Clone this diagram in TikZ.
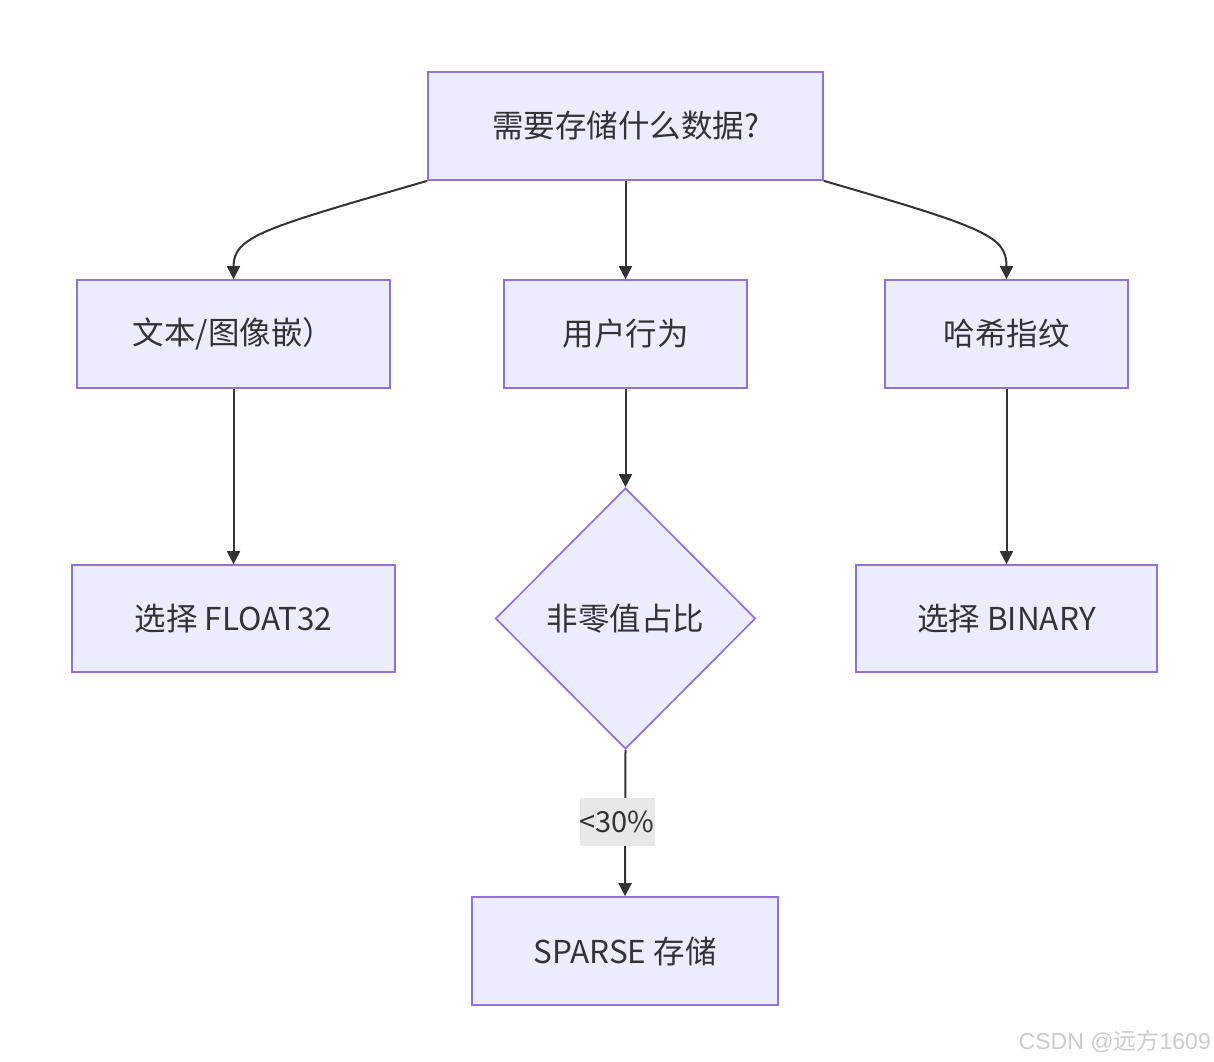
\documentclass[tikz,border=0pt]{standalone}
\usepackage{fontspec}
\setmainfont{Noto Sans CJK SC}
\newfontfamily\cjk{Noto Sans CJK SC}
\newfontfamily\wmsans{Liberation Sans}
\usetikzlibrary{shapes.geometric,arrows.meta}
\definecolor{nodefill}{HTML}{ECECFF}
\definecolor{nodeline}{HTML}{9370DB}
\definecolor{ink}{HTML}{333333}
\definecolor{lblbg}{HTML}{E8E8E8}
\begin{document}
\begin{tikzpicture}[x=1pt,y=-1pt,
  box/.style={draw=nodeline,fill=nodefill,line width=1.7pt,rectangle,inner sep=0pt,
    text=ink,font=\fontsize{31.5}{37}\selectfont},
  dia/.style={draw=nodeline,fill=nodefill,line width=1.7pt,diamond,inner sep=0pt,
    text=ink,font=\fontsize{31.5}{37}\selectfont,minimum width=260pt,minimum height=261pt,aspect=1},
  conn/.style={draw=ink,line width=2pt,-{Triangle[length=13pt,width=13pt]}},
  lbl/.style={fill=lblbg,text=ink,font=\fontsize{29}{34}\selectfont,inner sep=0pt,minimum width=70pt,minimum height=48pt}
]
\useasboundingbox (0,0) rectangle (1214,1061);
\fill[white] (0,0) rectangle (1214,1061);

\node[box,minimum width=395pt,minimum height=108pt] (q) at (625.5,126) {需要存储什么数据?};
\node[box,minimum width=313pt,minimum height=108pt] (emb) at (233.5,334) {文本/图像嵌）};
\node[box,minimum width=243pt,minimum height=108pt] (user) at (625.5,334) {用户行为};
\node[box,minimum width=243pt,minimum height=108pt] (hash) at (1006.5,334) {哈希指纹};
\node[box,minimum width=323pt,minimum height=107pt] (f32) at (233.5,618.5) {选择 FLOAT32};
\node[dia] (nz) at (625.5,618.5) {非零值占比};
\node[box,minimum width=301pt,minimum height=107pt] (bin) at (1006.5,618.5) {选择 BINARY};
\node[box,minimum width=306pt,minimum height=108pt] (sp) at (625,951) {SPARSE 存储};

\draw[conn] (q.south west) .. controls (265,228) and (233.5,236) .. (emb.north);
\draw[conn] (q.south) -- (user.north);
\draw[conn] (q.south east) .. controls (986,228) and (1006.5,236) .. (hash.north);
\draw[conn] (emb.south) -- (f32.north);
\draw[conn] (user.south) -- (nz.north);
\draw[conn] (hash.south) -- (bin.north);
\draw[conn] (nz.south) -- (sp.north);
\node[lbl] (l30) at (617,822) {<30\%};

\node[anchor=east,text=black!20,font=\fontsize{23}{26}\selectfont,inner sep=0pt] (wm) at (1211,1041) {{\wmsans CSDN @}{\cjk 远方}{\wmsans 1609}};
\end{tikzpicture}
\end{document}
